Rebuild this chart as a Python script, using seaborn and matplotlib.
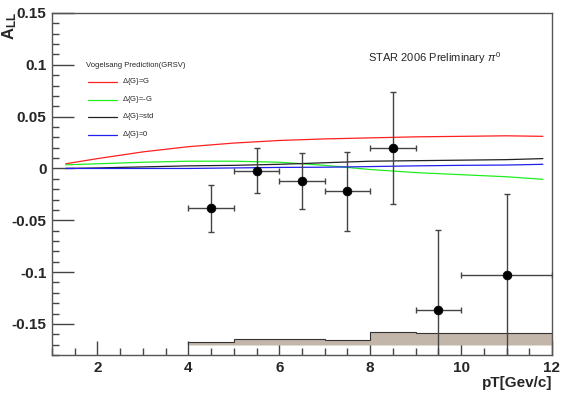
import numpy as np
import pandas as pd
import matplotlib
matplotlib.use("Agg")
import matplotlib.pyplot as plt
import seaborn as sns
from matplotlib.ticker import MultipleLocator

# STAR 2006 pi0 A_LL data points
pt = [4.5, 5.5, 6.5, 7.5, 8.5, 9.5, 11.0]
all_val = [-0.0385, -0.002, -0.0125, -0.022, 0.020, -0.1365, -0.103]
all_err = [0.0225, 0.022, 0.027, 0.038, 0.054, 0.077, 0.078]
pt_err = [0.5, 0.5, 0.5, 0.5, 0.5, 0.5, 1.0]

# systematic band (bin edges and top of band)
sys_edges = [4, 5, 6, 7, 8, 9, 10, 11, 12]
sys_top = [-0.1675, -0.1647, -0.1647, -0.1657, -0.158, -0.1587, -0.159, -0.159]
sys_base = -0.170

# GRSV predictions
pt_theory = [1.3, 2, 3, 4, 5, 6, 7, 8, 9, 10, 11, 11.8]
grsv_max = [0.0045, 0.0095, 0.016, 0.021, 0.0245, 0.027, 0.0285, 0.0295, 0.0305, 0.031, 0.0315, 0.031]
grsv_min = [0.0035, 0.0045, 0.006, 0.007, 0.007, 0.006, 0.003, -0.001, -0.004, -0.006, -0.008, -0.0105]
grsv_std = [0.0, 0.0005, 0.0015, 0.0025, 0.003, 0.004, 0.0055, 0.007, 0.0075, 0.008, 0.0085, 0.0095]
grsv_zero = [0.0, 0.0, 0.0, 0.0, 0.0005, 0.001, 0.0012, 0.0018, 0.0025, 0.003, 0.0033, 0.004]

curves = [("$\\Delta${G}=G", grsv_max, "#ff2020"),
          ("$\\Delta${G}=-G", grsv_min, "#20ee20"),
          ("$\\Delta${G}=std", grsv_std, "#222222"),
          ("$\\Delta${G}=0", grsv_zero, "#2020ee")]

sns.set_style("ticks")
plt.rcParams['font.family'] = ['Liberation Sans', 'DejaVu Sans']
plt.rcParams['mathtext.fontset'] = 'custom'
plt.rcParams['mathtext.rm'] = 'Liberation Sans'
plt.rcParams['mathtext.it'] = 'Liberation Sans:italic'
plt.rcParams['mathtext.bf'] = 'Liberation Sans:bold'

fig = plt.figure(figsize=(5.61, 3.97), dpi=100)
ax = fig.add_axes([52 / 561, 1 - 355 / 397, 500 / 561, 342 / 397])

# systematic band
ax.stairs(sys_top, sys_edges, baseline=sys_base, fill=True,
          facecolor="#c2b6aa", edgecolor="#333333", linewidth=0.8, zorder=1)

# theory curves
for name, vals, col in curves:
    df = pd.DataFrame({"pt": pt_theory, "all": vals})
    sns.lineplot(data=df, x="pt", y="all", color=col, linewidth=0.9, ax=ax, zorder=2)

# data
ax.errorbar(pt, all_val, yerr=all_err, xerr=pt_err, fmt="none",
            ecolor="#444444", elinewidth=1.0, capsize=2.5, capthick=1.0, zorder=3)
sns.scatterplot(x=pt, y=all_val, color="black", s=40, edgecolor="black", ax=ax, zorder=4)

ax.set_xlim(1, 12)
ax.set_ylim(-0.18, 0.15)
ax.set_xlabel("")
ax.set_ylabel("")
ax.xaxis.set_minor_locator(MultipleLocator(0.5))
ax.yaxis.set_minor_locator(MultipleLocator(0.01))
ax.set_yticks([-0.15, -0.1, -0.05, 0, 0.05, 0.1, 0.15])
ax.set_yticklabels(["-0.15", "-0.1", "-0.05", "0", "0.05", "0.1", "0.15"])
ax.set_xticks([2, 4, 6, 8, 10, 12])
ax.set_xticklabels(["2", "4", "6", "8", "10", "12"])
ax.tick_params(axis="both", which="both", bottom=True, left=True, top=False, right=False)
ax.tick_params(axis="both", which="major", direction="in", length=10, width=1,
               color="#444444", labelsize=11, pad=4)
ax.tick_params(axis="y", which="major", length=16)
ax.tick_params(axis="both", which="minor", direction="in", length=5, width=1, color="#444444")
for lab in ax.get_xticklabels() + ax.get_yticklabels():
    lab.set_fontweight("bold")
for sp in ax.spines.values():
    sp.set_visible(True)
    sp.set_color("#555555")
    sp.set_linewidth(1.0)

# legend drawn by hand like ROOT's TLegend
ax.text(1.75, 0.0995, "Vogelsang Prediction(GRSV)", fontsize=5.5, va="center", ha="left")
leg_y = [0.0835, 0.0662, 0.0497, 0.0326]
for (name, vals, col), ly in zip(curves, leg_y):
    ax.plot([1.79, 2.43], [ly, ly], color=col, linewidth=0.9)
    ax.text(2.53, ly, name, fontsize=5.5, va="center", ha="left")

ax.text(7.95, 0.1065, "STAR 2006 Preliminary $\\pi^{0}$", fontsize=8, va="center", ha="left")

fig.text(552 / 561, 1 - 383 / 397, "pT[Gev/c]", fontsize=11, fontweight="bold",
         ha="right", va="center")
fig.text(10 / 561, 1 - 12 / 397, "A$_{\\mathbf{LL}}$", fontsize=12, fontweight="bold",
         rotation=90, ha="center", va="top")

fig.savefig("out.png", dpi=100)
